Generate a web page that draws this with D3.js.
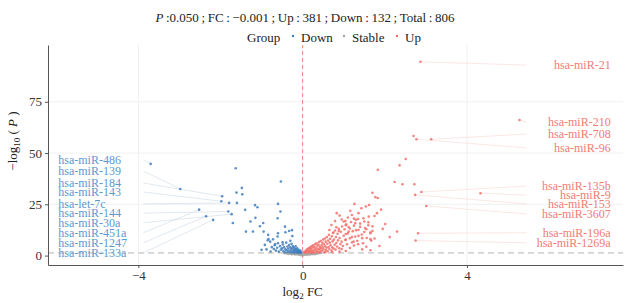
<!DOCTYPE html>
<html>
<head>
<meta charset="utf-8">
<script src="https://d3js.org/d3.v7.min.js"></script>
<style>
  body { margin: 0; background: #fff; }
  text { font-family: "Liberation Serif", "DejaVu Serif", serif; }
</style>
</head>
<body>
<div id="chart"></div>
<script>
// significance thresholds and counts shown in the title
var pCut = 0.05;
var fcCut = -0.001;

// labelled down-regulated miRNAs: name, log2FC, -log10(P)
var downNames = ["hsa-miR-486", "hsa-miR-139", "hsa-miR-184", "hsa-miR-143", "hsa-let-7c",
    "hsa-miR-144", "hsa-miR-30a", "hsa-miR-451a", "hsa-miR-1247", "hsa-miR-133a"];
var downNameFC = [-3.70, -2.98, -1.96, -1.98, -1.79, -1.81, -1.73, -2.52, -2.35, -2.18];
var downNameP = [44.7, 32.5, 28.9, 26.5, 25.7, 21.5, 20.2, 22.4, 19.2, 17.4];
// repelled label heights (data units)
var downLabelY = [46.6, 41.2, 35.4, 31.0, 25.2, 20.7, 16.0, 11.1, 6.2, 1.3];

// labelled up-regulated miRNAs
var upNames = ["hsa-miR-21", "hsa-miR-210", "hsa-miR-708", "hsa-miR-96", "hsa-miR-135b",
    "hsa-miR-9", "hsa-miR-153", "hsa-miR-3607", "hsa-miR-196a", "hsa-miR-1269a"];
var upNameFC = [2.87, 5.28, 3.13, 2.77, 2.89, 4.33, 2.74, 3.01, 2.81, 2.75];
var upNameP = [94.5, 66.1, 56.7, 56.7, 31.0, 30.4, 29.6, 24.2, 10.9, 7.3];
var upLabelY = [92.9, 65.1, 59.3, 52.5, 33.9, 29.5, 25.2, 20.3, 11.1, 6.2];

// other points [log2FC, -log10(P)]
var downPts = [
    [-1.63,42.6],[-0.53,36.1],[-1.48,33.0],[-1.61,30.7],[-1.47,29.9],[-1.60,25.7],[-1.16,24.6],
    [-1.10,23.6],[-0.60,25.2],[-1.40,22.3],[-0.54,21.5],[-1.15,18.4],[-0.61,18.2],[-1.27,16.6],
    [-1.70,15.9],[-0.96,15.9],[-1.04,14.3],[-0.43,14.1],[-1.38,11.7],[-1.21,11.7],[-0.95,11.7],
    [-0.26,12.4],[-0.33,12.0],[-0.84,10.1],[-0.60,10.9],[-0.42,11.4],[-0.83,8.1],[-0.61,9.3],
    [-0.25,9.5],[-0.79,6.8],[-1.00,2.8],[-0.67,5.6],[-0.49,6.5],[-0.30,7.2],
    [-0.92,5.2],[-0.88,3.0],[-0.85,7.5],[-0.78,2.0],[-0.72,7.9],
    [-0.75,4.1],[-0.70,3.2],[-0.68,5.0],[-0.65,2.4],[-0.62,3.8],[-0.60,6.0],[-0.58,1.9],[-0.55,4.6],
    [-0.53,2.9],[-0.50,3.5],[-0.48,5.4],[-0.47,2.2],[-0.45,4.0],[-0.43,1.6],[-0.42,3.1],[-0.40,6.3],
    [-0.39,2.6],[-0.37,4.4],[-0.36,1.8],[-0.35,3.4],[-0.33,5.1],[-0.32,2.3],[-0.30,4.0],[-0.29,1.5],
    [-0.28,3.0],[-0.27,5.8],[-0.26,2.0],[-0.25,3.6],[-0.24,4.7],[-0.23,1.7],[-0.22,2.7],[-0.21,3.9],
    [-0.20,1.4],[-0.19,2.4],[-0.18,3.2],[-0.17,4.5],[-0.16,1.9],[-0.15,2.9],[-0.14,1.5],[-0.13,3.5],
    [-0.12,2.2],[-0.11,1.7],[-0.10,2.8],[-0.09,1.4],[-0.08,2.0],[-0.07,1.6],[-0.06,2.4],[-0.05,1.5],
    [-0.04,1.8],[-0.03,1.4]
];

var upPts = [
    [2.70,58.3],[2.51,47.1],[2.36,44.0],[1.83,41.8],[2.24,35.9],[2.43,34.8],[2.72,34.8],[1.70,30.6],
    [1.77,28.5],[1.83,28.1],[1.26,25.2],[1.62,24.7],[1.43,23.1],[1.54,23.9],[1.91,22.4],[1.16,21.8],
    [0.83,20.7],[1.36,20.7],[1.20,19.8],[1.81,20.7],[1.61,19.0],[1.00,16.6],[2.01,15.4],[1.28,15.8],
    [0.82,13.8],[2.30,11.7],[1.12,11.7],[1.36,9.6],[1.65,10.9],[2.12,9.0],[1.67,7.3],[1.87,4.7],
    [1.47,6.0],[1.24,6.8],[1.65,8.0],[0.79,16.8],[1.04,16.8],
    [0.95,17.6],[1.05,14.8],[0.70,14.9],[1.15,13.2],[0.88,12.0],[1.30,12.4],[1.40,14.0],[1.50,11.5],
    [1.05,10.5],[1.20,9.0],[1.45,8.5],[1.55,12.8],[0.75,11.2],[1.60,14.8],[0.65,12.5],[1.35,17.8],
    [1.10,18.6],[0.90,19.5],[1.25,18.0],[1.70,12.0],[1.75,8.3],[1.95,13.0],[1.50,16.6],[1.05,7.8],
    [1.35,5.5],[1.55,4.3],[1.15,3.7],[1.25,4.9],[0.95,3.2],[1.45,3.0],[1.65,2.6],
    [0.03,1.5],[0.05,1.9],[0.06,1.4],[0.08,2.3],[0.09,1.6],[0.10,2.8],[0.11,1.8],[0.12,3.2],
    [0.13,2.1],[0.14,1.5],[0.15,3.6],[0.16,2.5],[0.17,1.9],[0.18,4.0],[0.19,2.9],[0.20,1.6],
    [0.21,3.4],[0.22,4.6],[0.23,2.2],[0.24,1.8],[0.25,3.9],[0.26,5.1],[0.27,2.7],[0.28,1.5],
    [0.29,4.3],[0.30,3.1],[0.31,5.6],[0.32,2.0],[0.33,3.7],[0.34,6.0],[0.35,2.5],[0.36,4.8],
    [0.37,1.7],[0.38,3.3],[0.39,5.3],[0.40,6.6],[0.41,2.9],[0.42,4.2],[0.43,1.9],[0.44,7.1],
    [0.45,3.6],[0.46,5.0],[0.47,2.4],[0.48,6.2],[0.49,4.0],[0.50,7.8],[0.51,3.0],[0.52,5.5],
    [0.53,1.6],[0.54,8.3],[0.55,4.5],[0.56,6.8],[0.57,2.7],[0.58,3.8],[0.59,9.0],[0.60,5.8],
    [0.61,2.1],[0.62,7.3],[0.63,4.2],[0.64,10.1],[0.65,3.2],[0.66,6.3],[0.67,8.2],[0.68,5.0],
    [0.70,2.5],[0.71,9.4],[0.72,4.0],[0.73,6.9],[0.74,11.0],[0.75,3.4],[0.76,7.8],[0.78,5.3],
    [0.79,12.2],[0.80,2.9],[0.81,9.0],[0.82,6.1],[0.84,4.4],[0.85,10.6],[0.86,7.4],[0.88,13.0],
    [0.89,3.6],[0.90,8.6],[0.92,5.6],[0.93,11.6],[0.95,6.8],[0.96,14.2],[0.98,4.7],[1.00,9.7],
    [1.02,12.8],[1.04,7.6],[1.06,15.3],[1.08,5.5],[1.10,10.8],[1.12,13.9],[1.15,8.4],[1.18,16.4],
    [1.20,6.4],[1.22,11.9],[1.25,14.6],[1.28,9.3],[1.30,17.5],[1.33,7.1],[1.36,12.6],[1.40,15.6],
    [1.44,10.3],[1.48,18.2],[1.52,13.4],[1.56,8.6],[1.60,16.2],[1.65,11.4],[1.70,14.3],[1.75,19.3],
    [0.22,1.4],[0.38,1.5],[0.55,1.6],[0.72,1.7],[0.90,1.9],[1.05,2.2]
];

var stablePts = [
    [-0.45,1.2],[-0.40,1.0],[-0.38,1.25],[-0.35,0.8],[-0.33,1.1],[-0.30,0.9],[-0.28,1.2],[-0.26,0.6],
    [-0.24,1.0],[-0.22,0.75],[-0.20,1.15],[-0.18,0.5],[-0.16,0.9],[-0.14,0.65],[-0.12,1.1],[-0.10,0.4],
    [-0.08,0.8],[-0.06,0.3],[-0.04,0.6],[-0.02,0.2],[0.00,0.1],[0.02,0.35],[0.04,0.7],[0.06,0.4],
    [0.08,1.0],[0.10,0.6],[0.12,0.3],[0.14,0.9],[0.16,1.2],[0.18,0.5],[0.20,0.8],[0.22,1.1],
    [0.24,0.65],[0.26,1.25],[0.28,0.9],[0.30,0.7],[0.33,1.15],[0.36,1.0],[0.40,1.2],[0.44,1.25]
];

var xTicks = [-4, 0, 4];
var yTicks = [0, 25, 50, 75];

var colDown = "#3f7cbd", colUp = "#f2706b", colStable = "#a6a6a6";

var w = 625, h = 303;
var svg = d3.select("#chart").append("svg")
    .attr("width", w).attr("height", h);

var x = d3.scaleLinear().domain([-6.2, 7.8]).range([48, 623]);
var y = d3.scaleLinear().domain([-4.6, 102.7]).range([265, 45]);

// grid
svg.append("g").selectAll("line").data(yTicks.slice(1)).enter().append("line")
    .attr("x1", x.range()[0]).attr("x2", x.range()[1])
    .attr("y1", d => y(d)).attr("y2", d => y(d))
    .attr("stroke", "#ececec").attr("stroke-width", 0.8);
svg.append("g").selectAll("line").data(xTicks).enter().append("line")
    .attr("y1", y.range()[0]).attr("y2", y.range()[1])
    .attr("x1", d => x(d)).attr("x2", d => x(d))
    .attr("stroke", "#ececec").attr("stroke-width", 0.8);

// threshold lines
svg.append("line")
    .attr("x1", x.range()[0]).attr("x2", x.range()[1])
    .attr("y1", y(-Math.log10(pCut))).attr("y2", y(-Math.log10(pCut)))
    .attr("stroke", "#d4d4d4").attr("stroke-width", 1.6).attr("stroke-dasharray", "6,4");
svg.append("line")
    .attr("x1", x(fcCut)).attr("x2", x(fcCut))
    .attr("y1", y.range()[0]).attr("y2", y.range()[1])
    .attr("stroke", "#f08a86").attr("stroke-width", 1).attr("stroke-dasharray", "4,3");

// label segments
var segL = svg.append("g");
downNames.forEach(function(n, i) {
    segL.append("line")
        .attr("x1", x(downNameFC[i])).attr("y1", y(downNameP[i]))
        .attr("x2", x(-5.95) + 85).attr("y2", y(downLabelY[i]))
        .attr("stroke", "#ccd8e5").attr("stroke-width", 0.6);
});
var segR = svg.append("g");
upNames.forEach(function(n, i) {
    segR.append("line")
        .attr("x1", x(upNameFC[i])).attr("y1", y(upNameP[i]))
        .attr("x2", x(7.5) - 84).attr("y2", y(upLabelY[i]))
        .attr("stroke", "#f7d6d3").attr("stroke-width", 0.6);
});

// points
function drawPts(data, col) {
    svg.append("g").selectAll("circle").data(data).enter().append("circle")
        .attr("cx", d => x(d[0])).attr("cy", d => y(d[1]))
        .attr("r", 1.3).attr("fill", col).attr("fill-opacity", 0.85);
}
drawPts(stablePts, colStable);
drawPts(downPts, colDown);
drawPts(upPts, colUp);
drawPts(downNameFC.map((d, i) => [d, downNameP[i]]), colDown);
drawPts(upNameFC.map((d, i) => [d, upNameP[i]]), colUp);

// labels
svg.append("g").selectAll("text").data(downNames).enter().append("text")
    .attr("x", x(-5.95)).attr("y", (d, i) => y(downLabelY[i]))
    .attr("dy", "0.35em").attr("font-size", 12).attr("fill", "#5f97cf")
    .text(d => d);
svg.append("g").selectAll("text").data(upNames).enter().append("text")
    .attr("x", x(7.5)).attr("y", (d, i) => y(upLabelY[i]))
    .attr("dy", "0.35em").attr("font-size", 12).attr("fill", "#f27b74")
    .attr("text-anchor", "end")
    .text(d => d);

// axes
var yAxis = svg.append("g").attr("transform", "translate(" + x.range()[0] + ",0)")
    .call(d3.axisLeft(y).tickValues(yTicks).tickSize(3).tickSizeOuter(0));
var xAxis = svg.append("g").attr("transform", "translate(0," + y.range()[0] + ")")
    .call(d3.axisBottom(x).tickValues(xTicks).tickSize(3).tickSizeOuter(0)
        .tickFormat(d => d < 0 ? "\u2212" + Math.abs(d) : d));
[yAxis, xAxis].forEach(function(a) {
    a.select(".domain").attr("stroke", "#555");
    a.selectAll(".tick line").attr("stroke", "#555");
    a.selectAll(".tick text").attr("fill", "#333").attr("font-size", 13)
        .attr("font-family", "Liberation Serif, serif");
});

// axis titles
var xt = svg.append("text").attr("x", x(0)).attr("y", 296)
    .attr("text-anchor", "middle").attr("font-size", 13).attr("fill", "#222");
xt.append("tspan").text("log");
xt.append("tspan").attr("font-size", 9).attr("dy", 3).text("2");
xt.append("tspan").attr("dy", -3).text(" FC");

var yt = svg.append("text").attr("transform", "translate(17,141) rotate(-90)")
    .attr("text-anchor", "middle").attr("font-size", 13).attr("fill", "#222");
yt.append("tspan").text("\u2212log");
yt.append("tspan").attr("font-size", 9).attr("dy", 3).text("10");
yt.append("tspan").attr("dy", -3).text(" ( ");
yt.append("tspan").attr("font-style", "italic").text("P");
yt.append("tspan").text(" )");

// title
var sp = "\u2009";
var tt = svg.append("text").attr("x", 305).attr("y", 22)
    .attr("text-anchor", "middle").attr("font-size", 13).attr("fill", "#222");
tt.append("tspan").attr("font-style", "italic").text("P");
tt.append("tspan").text(sp + ":" + pCut.toFixed(3) + sp + ";" + sp + "FC" + sp + ":" + sp + "\u2212" +
    Math.abs(fcCut).toFixed(3) + sp + ";" + sp + "Up" + sp + ":" + sp + "381" + sp + ";" + sp +
    "Down" + sp + ":" + sp + "132" + sp + ";" + sp + "Total" + sp + ":" + sp + "806");

// legend
var lg = svg.append("g").attr("font-size", 13).attr("fill", "#222");
lg.append("text").attr("x", 247).attr("y", 42).text("Group");
var groups = ["Down", "Stable", "Up"];
var gCols = [colDown, colStable, colUp];
var gX = [293, 344, 397];
groups.forEach(function(g, i) {
    lg.append("circle").attr("cx", gX[i]).attr("cy", 36).attr("r", 1.2).attr("fill", gCols[i]);
    lg.append("text").attr("x", gX[i] + 8).attr("y", 42).text(g);
});
</script>
</body>
</html>
